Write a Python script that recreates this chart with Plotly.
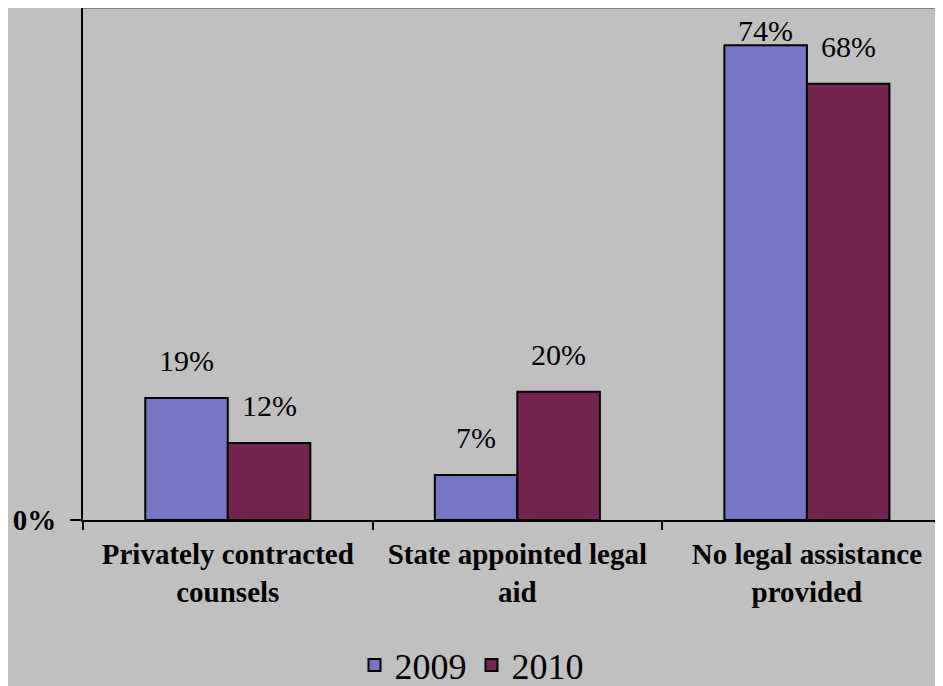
import plotly.graph_objects as go

categories = ["Privately contracted<br>counsels", "State appointed legal<br>aid", "No legal assistance<br>provided"]
years = ["2009", "2010"]
values_2009 = [0.19, 0.07, 0.74]
values_2010 = [0.12, 0.20, 0.68]
labels_2009 = ["19%", "7%", "74%"]
labels_2010 = ["12%", "20%", "68%"]

colors = {"2009": "#7676c4", "2010": "#74254f"}
BG = "#c0c0c0"
SERIF = "Liberation Serif"

# the page body adds an 8px margin, so the figure is sized to fit the window
W, H = 935, 678
ML, MR, MT, MB = 75, 0, 0, 166
Y_MAX = 0.798
bargap = 0.43
x_range = [-0.5, 2.47]
plot_w = W - ML - MR
plot_h = H - MT - MB
cat_px = plot_w / (x_range[1] - x_range[0])
bar_px = cat_px * (1 - bargap) / 2

BASE_SHIFT = 19
LABEL_H = 39
TOP_PAD = 2

fig = go.Figure()
for yr, vals in zip(years, [values_2009, values_2010]):
    fig.add_trace(go.Bar(
        name=yr, x=categories, y=vals,
        marker=dict(color=colors[yr], line=dict(color="black", width=2)),
        hoverinfo="skip",
    ))

annotations = []
for sign, vals, labs in [(-1, values_2009, labels_2009), (1, values_2010, labels_2010)]:
    for c, v, t in zip(categories, vals, labs):
        bar_top_px = MT + (1 - v / Y_MAX) * plot_h
        shift = min(BASE_SHIFT, bar_top_px - LABEL_H - TOP_PAD)
        annotations.append(dict(
            x=c, y=v, xref="x", yref="y", text=t, showarrow=False,
            xanchor="center", yanchor="bottom", xshift=sign * bar_px / 2, yshift=shift,
            font=dict(family=SERIF, size=30, color="black"),
        ))

fig.update_layout(
    width=W, height=H,
    margin=dict(l=ML, r=MR, t=MT, b=MB, autoexpand=False),
    paper_bgcolor=BG, plot_bgcolor=BG,
    barmode="group", bargap=bargap, bargroupgap=0,
    annotations=annotations,
    showlegend=True,
    legend=dict(orientation="h", xref="container", yref="container",
                x=463.5 / W, xanchor="center", y=21 / H, yanchor="middle",
                font=dict(family=SERIF, size=36, color="black"),
                bgcolor="rgba(0,0,0,0)", itemwidth=30, traceorder="normal"),
    shapes=[dict(type="line", xref="paper", yref="paper", x0=0, x1=1, y0=1, y1=1,
                 line=dict(color="#808080", width=2))],
    xaxis=dict(
        range=x_range, showgrid=False, zeroline=False, automargin=False,
        showline=True, linecolor="black", linewidth=2,
        ticks="outside", tickson="boundaries", ticklen=8, tickwidth=2, tickcolor="black",
        ticklabelstandoff=7,
        tickfont=dict(family=SERIF, size=29, color="black", weight="bold"),
    ),
    yaxis=dict(
        range=[0, Y_MAX], showgrid=False, zeroline=False, automargin=False,
        showline=True, linecolor="black", linewidth=2,
        tickvals=[0], ticktext=["0%"], ticks="outside", ticklen=11, tickwidth=2, tickcolor="black",
        ticklabelstandoff=8,
        tickfont=dict(family=SERIF, size=29, color="black", weight="bold"),
    ),
)

fig.write_html("out.html")
